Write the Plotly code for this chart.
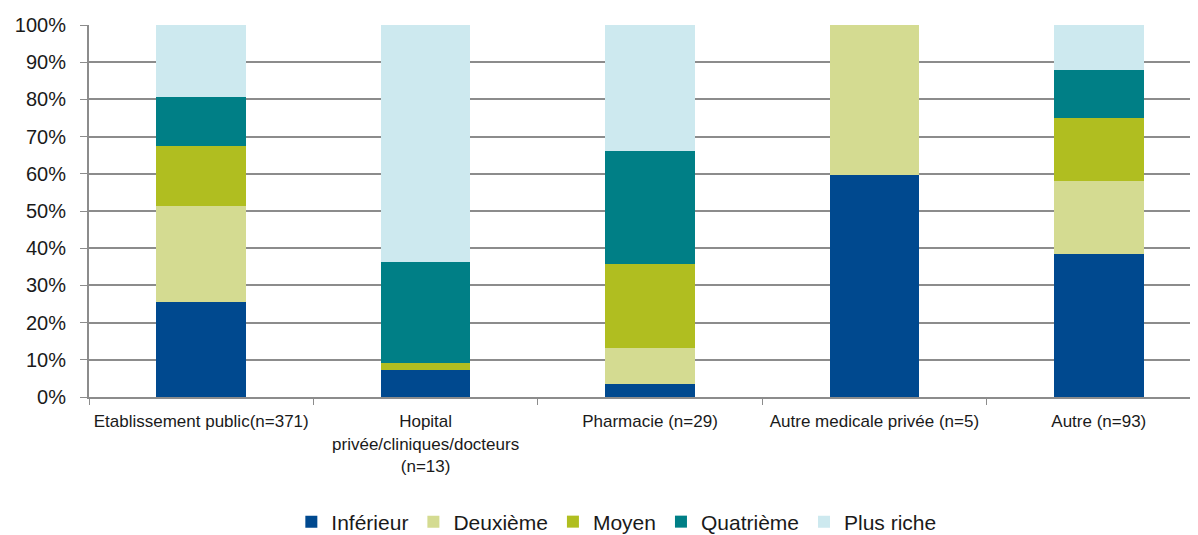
import plotly.graph_objects as go

# Categories (x axis)
categories = [
    "Etablissement public(n=371)",
    "Hopital<br>privée/cliniques/docteurs<br>(n=13)",
    "Pharmacie (n=29)",
    "Autre medicale privée (n=5)",
    "Autre (n=93)",
]

# Share of each wealth quintile (%)
inferieur = [25.6, 7.3, 3.4, 59.6, 38.4]
deuxieme = [25.7, 0.0, 9.7, 40.4, 19.6]
moyen = [16.2, 1.8, 22.6, 0.0, 17.0]
quatrieme = [13.2, 27.1, 30.4, 0.0, 12.9]
plus_riche = [19.3, 63.8, 33.9, 0.0, 12.1]

series = [
    ("Inférieur", inferieur, "#00498f"),
    ("Deuxième", deuxieme, "#d4db91"),
    ("Moyen", moyen, "#b0be20"),
    ("Quatrième", quatrieme, "#007f86"),
    ("Plus riche", plus_riche, "#cde9ef"),
]

font_family = "Liberation Sans Narrow, Arial Narrow, Liberation Sans, sans-serif"

fig = go.Figure()

# One stacked bar trace per quintile
for name, values, color in series:
    fig.add_trace(
        go.Bar(
            x=categories,
            y=values,
            name=name,
            marker=dict(color=color, line=dict(width=0)),
        )
    )

# page body has an 8px margin, so the figure is shifted by 8px;
# the plot area runs a little past the right edge like in the original
fig.update_layout(
    barmode="stack",
    bargap=0.6,
    width=1203,
    height=527,
    margin=dict(l=81, r=0, t=17, b=138, autoexpand=False),
    plot_bgcolor="white",
    paper_bgcolor="white",
    font=dict(family=font_family, color="#1a1a1a"),
    legend=dict(
        orientation="h",
        x=0.47,
        xanchor="center",
        y=-0.336,
        yanchor="middle",
        font=dict(size=21, family=font_family),
        itemwidth=30,
        traceorder="normal",
    ),
    xaxis=dict(
        automargin=False,
        tickangle=0,
        showline=True,
        linecolor="#8c8c8c",
        linewidth=2,
        ticks="outside",
        tickson="boundaries",
        ticklen=6,
        tickcolor="#8c8c8c",
        ticklabelstandoff=8,
        tickfont=dict(size=17, family=font_family),
    ),
    yaxis=dict(
        automargin=False,
        range=[0, 100],
        dtick=10,
        ticksuffix="%",
        showgrid=True,
        gridcolor="#8c8c8c",
        gridwidth=1.5,
        showline=True,
        linecolor="#8c8c8c",
        linewidth=2,
        ticks="outside",
        ticklen=7,
        tickcolor="#8c8c8c",
        ticklabelstandoff=10,
        tickfont=dict(size=20, family=font_family),
        zeroline=False,
    ),
)

fig.write_html("out.html")
